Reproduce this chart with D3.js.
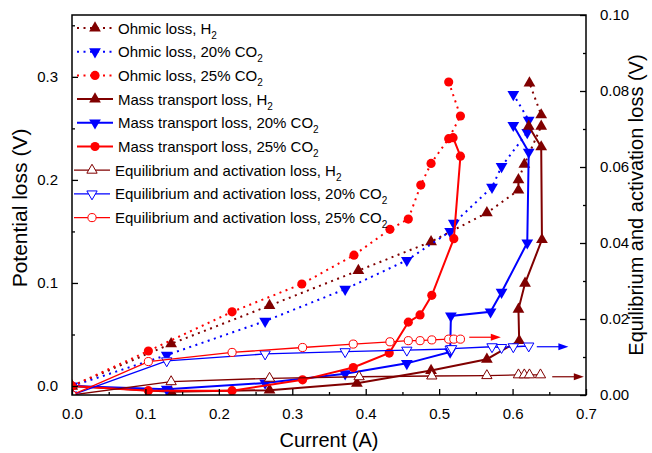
<!DOCTYPE html>
<html>
<head>
<meta charset="utf-8">
<script src="https://cdn.jsdelivr.net/npm/d3@7"></script>
<style>
  body { margin: 0; background: #fff; }
  svg { font-family: "Liberation Sans", Arial, sans-serif; }
</style>
</head>
<body>
<svg id="chart" width="652" height="453"></svg>
<script>
// current (A) and loss (V)
const ohmicH2Current = [0, 0.135, 0.269, 0.390, 0.489, 0.565, 0.608, 0.608, 0.616, 0.639, 0.639, 0.623];
const ohmicH2Loss    = [0, 0.041, 0.078, 0.112, 0.140, 0.168, 0.190, 0.200, 0.215, 0.252, 0.263, 0.294];
const ohmic20Current = [0, 0.129, 0.263, 0.372, 0.456, 0.515, 0.520, 0.572, 0.585, 0.620, 0.622, 0.601];
const ohmic20Loss    = [0, 0.030, 0.063, 0.094, 0.122, 0.150, 0.158, 0.193, 0.213, 0.246, 0.258, 0.283];
const ohmic25Current = [0, 0.104, 0.218, 0.313, 0.384, 0.433, 0.458, 0.475, 0.489, 0.513, 0.529, 0.513];
const ohmic25Loss    = [0, 0.034, 0.072, 0.099, 0.127, 0.152, 0.162, 0.195, 0.216, 0.240, 0.262, 0.295];

const massH2Current = [0, 0.135, 0.269, 0.388, 0.489, 0.565, 0.609, 0.608, 0.617, 0.640, 0.639, 0.622];
const massH2Loss    = [0, -0.0055, -0.004, 0.0026, 0.015, 0.026, 0.044, 0.0745, 0.0997, 0.142, 0.232, 0.252];
const mass20Current = [0, 0.129, 0.263, 0.372, 0.456, 0.515, 0.516, 0.570, 0.585, 0.620, 0.622, 0.601];
const mass20Loss    = [0, -0.003, 0.003, 0.012, 0.022, 0.033, 0.068, 0.072, 0.091, 0.139, 0.227, 0.253];
const mass25Current = [0, 0.104, 0.218, 0.314, 0.383, 0.432, 0.458, 0.474, 0.490, 0.520, 0.529, 0.519];
const mass25Loss    = [0, -0.0045, -0.0045, 0.006, 0.018, 0.032, 0.062, 0.069, 0.088, 0.143, 0.223, 0.241];

// equilibrium and activation loss goes on the right axis
const eqH2Current = [0, 0.135, 0.269, 0.391, 0.490, 0.565, 0.608, 0.616, 0.623, 0.638];
const eqH2Loss    = [0, 0.0035, 0.0044, 0.0048, 0.0050, 0.0051, 0.0053, 0.0053, 0.0053, 0.0053];
const eq20Current = [0, 0.129, 0.263, 0.372, 0.456, 0.515, 0.517, 0.572, 0.585, 0.601, 0.622];
const eq20Loss    = [0, 0.0090, 0.0108, 0.0114, 0.0118, 0.0121, 0.0122, 0.0127, 0.0125, 0.0127, 0.0129];
const eq25Current = [0, 0.104, 0.218, 0.314, 0.383, 0.433, 0.458, 0.474, 0.490, 0.513, 0.520, 0.529];
const eq25Loss    = [0, 0.0088, 0.0112, 0.0125, 0.0134, 0.0140, 0.0143, 0.0143, 0.0145, 0.0147, 0.0147, 0.0147];

// arrows pointing to the right axis: [x start, x end, y]
const arrowH2 = [0.654, 0.697, 0.0048];
const arrow20 = [0.633, 0.676, 0.0127];
const arrow25 = [0.541, 0.584, 0.0152];

const xTicks = [0, 0.1, 0.2, 0.3, 0.4, 0.5, 0.6, 0.7];
const yLeftTicks = [0, 0.1, 0.2, 0.3];
const yRightTicks = [0, 0.02, 0.04, 0.06, 0.08, 0.1];

const MAROON = "#800000", BLUE = "#0000ff", RED = "#ff0000";

const zip = (xs, ys) => xs.map((x, i) => [x, ys[i]]);

const series = [
  {name: "Ohmic loss, H", sub: "2", kind: "ohmic", color: MAROON, shape: "up", axis: "left", pts: zip(ohmicH2Current, ohmicH2Loss)},
  {name: "Ohmic loss, 20% CO", sub: "2", kind: "ohmic", color: BLUE, shape: "down", axis: "left", pts: zip(ohmic20Current, ohmic20Loss)},
  {name: "Ohmic loss, 25% CO", sub: "2", kind: "ohmic", color: RED, shape: "circle", axis: "left", pts: zip(ohmic25Current, ohmic25Loss)},
  {name: "Mass transport loss, H", sub: "2", kind: "mass", color: MAROON, shape: "up", axis: "left", pts: zip(massH2Current, massH2Loss)},
  {name: "Mass transport loss, 20% CO", sub: "2", kind: "mass", color: BLUE, shape: "down", axis: "left", pts: zip(mass20Current, mass20Loss)},
  {name: "Mass transport loss, 25% CO", sub: "2", kind: "mass", color: RED, shape: "circle", axis: "left", pts: zip(mass25Current, mass25Loss)},
  {name: "Equilibrium and activation loss, H", sub: "2", kind: "eq", color: MAROON, shape: "up", axis: "right", pts: zip(eqH2Current, eqH2Loss)},
  {name: "Equilibrium and activation loss, 20% CO", sub: "2", kind: "eq", color: BLUE, shape: "down", axis: "right", pts: zip(eq20Current, eq20Loss)},
  {name: "Equilibrium and activation loss, 25% CO", sub: "2", kind: "eq", color: RED, shape: "circle", axis: "right", pts: zip(eq25Current, eq25Loss)}
];

const margin = {top: 15, right: 66, bottom: 58, left: 72};
const width = 652, height = 453;
const svg = d3.select("#chart");

const x = d3.scaleLinear().domain([0, 0.7]).range([margin.left, width - margin.right]);
const yLeft = d3.scaleLinear().domain([-0.0087, 0.36]).range([height - margin.bottom, margin.top]);
const yRight = d3.scaleLinear().domain([0, 0.1]).range([height - margin.bottom, margin.top]);

svg.append("clipPath").attr("id", "plot-clip")
  .append("rect")
  .attr("x", margin.left).attr("y", margin.top)
  .attr("width", width - margin.left - margin.right)
  .attr("height", height - margin.top - margin.bottom);

const symbolPath = (shape, size) => {
  const type = shape === "circle" ? d3.symbolCircle : d3.symbolTriangle;
  return d3.symbol().type(type).size(size)();
};
const rotation = shape => shape === "down" ? " rotate(180)" : "";

const lineStyle = (sel, s) => {
  sel.attr("fill", "none")
     .attr("stroke", s.color)
     .attr("stroke-width", s.kind === "eq" ? 1.3 : 2)
     .attr("stroke-dasharray", s.kind === "ohmic" ? "2,4.5" : null);
};
const markerStyle = (sel, s) => {
  if (s.kind === "eq") {
    sel.attr("fill", "#fff").attr("stroke", s.color).attr("stroke-width", 1);
  } else {
    sel.attr("fill", s.color).attr("stroke", "none");
  }
};
const markerSize = s => s.kind === "eq" ? (s.shape === "circle" ? 52 : 46) : (s.shape === "circle" ? 66 : 60);

const plot = svg.append("g").attr("clip-path", "url(#plot-clip)");

series.forEach(s => {
  const yScale = s.axis === "left" ? yLeft : yRight;
  const line = d3.line().x(d => x(d[0])).y(d => yScale(d[1]));
  plot.append("path").datum(s.pts).attr("d", line).call(lineStyle, s);
  plot.selectAll(null)
    .data(s.pts)
    .enter()
    .append("path")
    .attr("d", symbolPath(s.shape, markerSize(s)))
    .attr("transform", d => `translate(${x(d[0])},${yScale(d[1])})` + rotation(s.shape))
    .call(markerStyle, s);
});

// arrows
[[arrowH2, MAROON], [arrow20, BLUE], [arrow25, RED]].forEach(([a, color]) => {
  const x0 = x(a[0]), x1 = x(a[1]), yy = yRight(a[2]);
  svg.append("line")
    .attr("x1", x0).attr("x2", x1 - 6).attr("y1", yy).attr("y2", yy)
    .attr("stroke", color).attr("stroke-width", 1.2);
  svg.append("path")
    .attr("d", `M${x1},${yy} L${x1 - 10},${yy - 3.5} L${x1 - 10},${yy + 3.5} Z`)
    .attr("fill", color);
});

// axes
const tickFont = sel => sel.selectAll("text").attr("font-size", 15).attr("fill", "#000")
  .attr("font-family", "Liberation Sans, Arial, sans-serif");

const xMinor = d3.range(0.05, 0.7, 0.1);
const yLeftMinor = [0.05, 0.15, 0.25, 0.35];
const yRightMinor = d3.range(0.01, 0.1, 0.02);

const bottom = height - margin.bottom;
svg.append("g").attr("transform", `translate(0,${bottom})`)
  .call(d3.axisBottom(x).tickValues(xTicks).tickFormat(d3.format(".1f")).tickSizeInner(-6).tickSizeOuter(0).tickPadding(13))
  .call(tickFont);
svg.append("g").attr("transform", `translate(0,${bottom})`)
  .call(d3.axisBottom(x).tickValues(xMinor).tickFormat("").tickSizeInner(-3).tickSizeOuter(0));

svg.append("g").attr("transform", `translate(${margin.left},0)`)
  .call(d3.axisLeft(yLeft).tickValues(yLeftTicks).tickFormat(d3.format(".1f")).tickSizeInner(-6).tickSizeOuter(0).tickPadding(14))
  .call(tickFont);
svg.append("g").attr("transform", `translate(${margin.left},0)`)
  .call(d3.axisLeft(yLeft).tickValues(yLeftMinor).tickFormat("").tickSizeInner(-3).tickSizeOuter(0));

svg.append("g").attr("transform", `translate(${width - margin.right},0)`)
  .call(d3.axisRight(yRight).tickValues(yRightTicks).tickFormat(d3.format(".2f")).tickSizeInner(-6).tickSizeOuter(0).tickPadding(14))
  .call(tickFont);
svg.append("g").attr("transform", `translate(${width - margin.right},0)`)
  .call(d3.axisRight(yRight).tickValues(yRightMinor).tickFormat("").tickSizeInner(-3).tickSizeOuter(0));

svg.selectAll(".domain").remove();
svg.selectAll(".tick line").attr("stroke", "#000").attr("stroke-width", 1.3);

// frame
svg.append("rect")
  .attr("x", margin.left).attr("y", margin.top)
  .attr("width", width - margin.left - margin.right)
  .attr("height", height - margin.top - margin.bottom)
  .attr("fill", "none").attr("stroke", "#000").attr("stroke-width", 1.5);

// axis titles
svg.append("text")
  .attr("x", (margin.left + width - margin.right) / 2).attr("y", 447)
  .attr("text-anchor", "middle").attr("font-size", 20)
  .text("Current (A)");
svg.append("text")
  .attr("transform", `translate(27,${(margin.top + bottom) / 2 + 3}) rotate(-90)`)
  .attr("text-anchor", "middle").attr("font-size", 21)
  .text("Potential loss (V)");
svg.append("text")
  .attr("transform", `translate(643,${(margin.top + bottom) / 2}) rotate(-90)`)
  .attr("text-anchor", "middle").attr("font-size", 20)
  .text("Equilibrium and activation loss (V)");

// legend
const legend = svg.append("g");
series.forEach((s, i) => {
  const yy = 28 + i * 23.7;
  const shift = s.kind === "eq" ? -3 : 0;
  const g = legend.append("g").attr("transform", `translate(${shift},${yy})`);
  g.append("line").attr("x1", 77).attr("x2", 113).attr("y1", 0).attr("y2", 0).call(lineStyle, s);
  g.append("path")
    .attr("d", symbolPath(s.shape, markerSize(s)))
    .attr("transform", "translate(95,0)" + rotation(s.shape))
    .call(markerStyle, s);
  const t = g.append("text").attr("x", 118).attr("y", 5.5).attr("font-size", 15).attr("fill", "#000");
  t.append("tspan").text(s.name);
  t.append("tspan").attr("font-size", 10).attr("dy", 5).text(s.sub);
});
</script>
</body>
</html>
